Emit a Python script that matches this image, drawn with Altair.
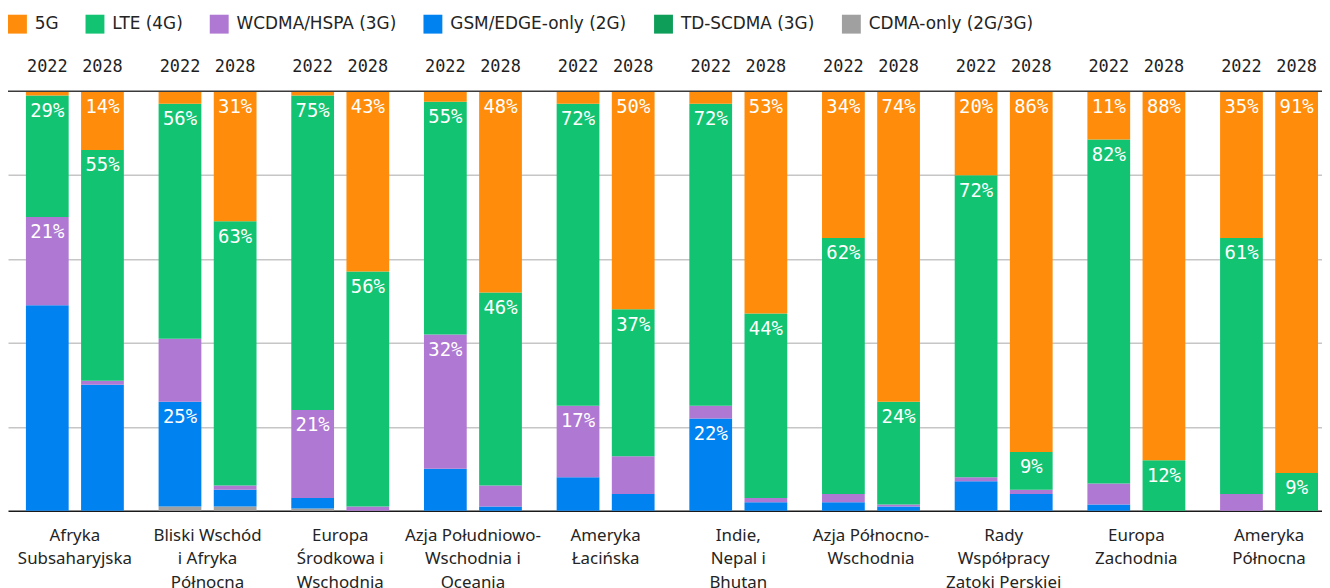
import altair as alt
import pandas as pd

regions = ["Afryka Subsaharyjska", "Bliski Wschód i Afryka Północna", "Europa Środkowa i Wschodnia",
           "Azja Południowo-Wschodnia i Oceania", "Ameryka Łacińska", "Indie, Nepal i Bhutan",
           "Azja Północno-Wschodnia", "Rady Współpracy Zatoki Perskiej", "Europa Zachodnia",
           "Ameryka Północna"]
region_lines = ["Afryka\nSubsaharyjska", "Bliski Wschód\ni Afryka\nPółnocna", "Europa\nŚrodkowa i\nWschodnia",
                "Azja Południowo-\nWschodnia i\nOceania", "Ameryka\nŁacińska", "Indie,\nNepal i\nBhutan",
                "Azja Północno-\nWschodnia", "Rady\nWspółpracy\nZatoki Perskiej", "Europa\nZachodnia",
                "Ameryka\nPółnocna"]
years = ["2022", "2028"]

series = ["5G", "LTE (4G)", "WCDMA/HSPA (3G)", "GSM/EDGE-only (2G)", "TD-SCDMA (3G)", "CDMA-only (2G/3G)"]
colors = ["#FF8C0A", "#12C372", "#AF78D2", "#0082F0", "#0E9E5A", "#A0A0A0"]
# bottom -> top
stack_order = ["CDMA-only (2G/3G)", "GSM/EDGE-only (2G)", "TD-SCDMA (3G)", "WCDMA/HSPA (3G)", "LTE (4G)", "5G"]

# values per region: 2022, 2028
v_5g    = [1, 14, 3, 31, 1, 43, 2.5, 48, 3, 52, 3, 53, 35, 74, 20, 86, 11.5, 88, 35, 91]
v_lte   = [29, 55, 56, 63, 75, 56, 55.5, 46, 72, 35, 72, 44, 61, 24.5, 72, 9, 82, 12, 61, 9]
v_wcdma = [21, 1, 15, 1, 21, 1, 32, 5, 17, 9, 3, 1, 2, 0.5, 1, 1, 5, 0, 4, 0]
v_gsm   = [49, 30, 25, 4, 2.5, 0, 10, 1, 8, 4, 22, 2, 2, 1, 7, 4, 1.5, 0, 0, 0]
v_td    = [0] * 20
v_cdma  = [0, 0, 1, 1, 0.5, 0, 0, 0, 0, 0, 0, 0, 0, 0, 0, 0, 0, 0, 0, 0]

l_5g    = ["", "14%", "", "31%", "", "43%", "", "48%", "", "50%", "", "53%", "34%", "74%", "20%", "86%", "11%", "88%", "35%", "91%"]
l_lte   = ["29%", "55%", "56%", "63%", "75%", "56%", "55%", "46%", "72%", "37%", "72%", "44%", "62%", "24%", "72%", "9%", "82%", "12%", "61%", "9%"]
l_wcdma = ["21%", "", "", "", "21%", "", "32%", "", "17%", "", "", "", "", "", "", "", "", "", "", ""]
l_gsm   = ["", "", "25%", "", "", "", "", "", "", "", "22%", "", "", "", "", "", "", "", "", ""]

values = {"5G": v_5g, "LTE (4G)": v_lte, "WCDMA/HSPA (3G)": v_wcdma, "GSM/EDGE-only (2G)": v_gsm,
          "TD-SCDMA (3G)": v_td, "CDMA-only (2G/3G)": v_cdma}
labels = {"5G": l_5g, "LTE (4G)": l_lte, "WCDMA/HSPA (3G)": l_wcdma, "GSM/EDGE-only (2G)": l_gsm}

rows = []
for i, reg in enumerate(regions):
    for j, yr in enumerate(years):
        k = 2 * i + j
        start = 0.0
        for s in stack_order:
            v = values[s][k]
            lab = labels.get(s, [""] * 20)[k]
            rows.append({"region": reg, "year": yr, "series": s, "start": start, "end": start + v, "label": lab})
            start += v
df = pd.DataFrame(rows)
lab_df = df[df["label"] != ""]
yr_df = pd.DataFrame([{"region": r, "year": y} for r in regions for y in years])
reg_df = pd.DataFrame({"region": regions, "text": region_lines})
top_df = pd.DataFrame({"v": [100]})

x_scale = alt.Scale(domain=regions, range=[0, 1336], paddingInner=0.262, paddingOuter=0.135)
xo_scale = alt.Scale(domain=years, paddingInner=0.225, paddingOuter=0)
y_scale = alt.Scale(domain=[0, 100], nice=False, zero=True)
x_axis = alt.Axis(labels=False, ticks=False, title=None, domain=True, domainColor="#1a1a1a",
                  domainWidth=1.5, grid=False, minExtent=0)
y_axis = alt.Axis(values=[20, 40, 60, 80], grid=True, gridColor="#C6C6C6", gridWidth=1.5,
                  labels=False, ticks=False, domain=False, title=None, minExtent=0)

X = alt.X("region:N", scale=x_scale, axis=x_axis)
XO = alt.XOffset("year:N", scale=xo_scale)

bars = alt.Chart(df).mark_bar().encode(
    x=X, xOffset=XO,
    y=alt.Y("start:Q", scale=y_scale, axis=y_axis),
    y2="end:Q",
    color=alt.Color("series:N", scale=alt.Scale(domain=series, range=colors),
                    legend=alt.Legend(title=None, orient="none", legendX=0, legendY=-77,
                                      direction="horizontal", columns=6, symbolType="square",
                                      symbolSize=361, symbolStrokeWidth=0, labelFont="DejaVu Sans",
                                      labelFontSize=17, labelColor="#242424", labelOffset=8,
                                      columnPadding=27, padding=0, labelLimit=400)),
)

top_rule = alt.Chart(top_df).mark_rule(color="#3a3a3a", strokeWidth=1.5).encode(
    y=alt.Y("v:Q", scale=y_scale, axis=y_axis)
)

pct = alt.Chart(lab_df).mark_text(font="DejaVu Sans Mono", fontSize=19, color="white",
                                  baseline="middle", dy=15.5).encode(
    x=X, xOffset=XO,
    y=alt.Y("end:Q", scale=y_scale, axis=y_axis),
    text="label:N",
)

yrs = alt.Chart(yr_df).mark_text(font="DejaVu Sans Mono", fontSize=17, color="#1e1e1e",
                                 baseline="middle").encode(
    x=X, xOffset=XO, y=alt.value(-24), text="year:N"
)

regl = alt.Chart(reg_df).mark_text(font="Noto Sans", fontSize=17, color="#242424", baseline="top",
                                   lineBreak="\n", lineHeight=24).encode(
    x=X, y=alt.value(439), text="text:N"
)

chart = alt.layer(bars, top_rule, pct, yrs, regl).properties(
    width=1322, height=422,
    autosize=alt.AutoSizeParams(type="none"),
    padding={"left": 0, "right": 0, "top": 82, "bottom": 76},
    background="white",
).configure_view(stroke=None)

chart.save("out.html", embed_options={"renderer": "svg", "actions": False})
